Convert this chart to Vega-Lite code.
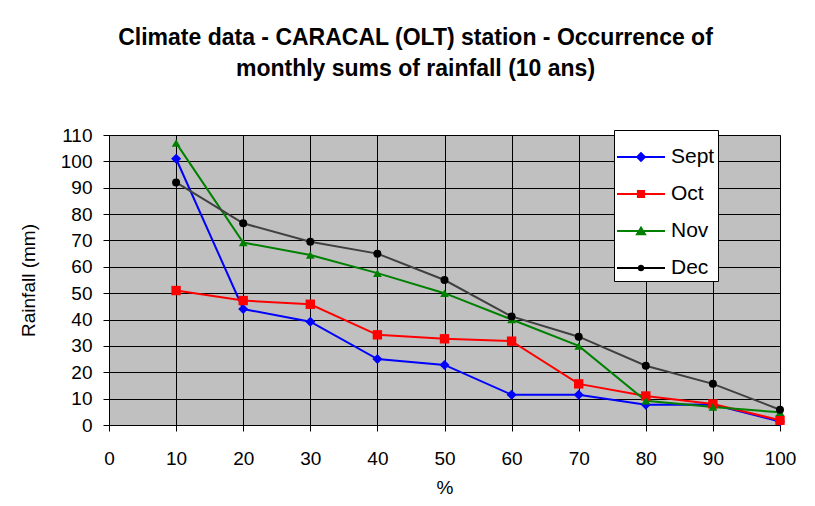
{
  "$schema": "https://vega.github.io/schema/vega-lite/v6.json",
  "width": 671,
  "height": 290,
  "autosize": "none",
  "padding": {"left": 109, "top": 135, "right": 35, "bottom": 81},
  "background": "white",
  "title": {
    "text": ["Climate data - CARACAL (OLT) station - Occurrence of", "monthly sums of rainfall (10 ans)"],
    "font": "Liberation Sans",
    "fontSize": 23,
    "fontWeight": "bold",
    "color": "black",
    "lineHeight": 31,
    "anchor": "middle",
    "dx": -29,
    "baseline": "alphabetic",
    "offset": 27
  },
  "config": {
    "view": {"fill": "#c0c0c0", "stroke": "#808080", "strokeWidth": 1},
    "axis": {
      "labelFont": "Liberation Sans",
      "labelFontSize": 19,
      "labelColor": "black",
      "titleFont": "Liberation Sans",
      "titleFontSize": 19,
      "titleFontWeight": "normal",
      "titleColor": "black",
      "domainColor": "black",
      "tickColor": "black",
      "tickSize": 6,
      "gridColor": "black",
      "gridOpacity": 1,
      "gridWidth": 1,
      "labelFlush": false,
      "labelOverlap": false
    }
  },
  "data": {
    "values": [
      {"pct": 10, "month": "Sept", "mm": 101},
      {"pct": 20, "month": "Sept", "mm": 44},
      {"pct": 30, "month": "Sept", "mm": 39.2},
      {"pct": 40, "month": "Sept", "mm": 25},
      {"pct": 50, "month": "Sept", "mm": 22.8},
      {"pct": 60, "month": "Sept", "mm": 11.5},
      {"pct": 70, "month": "Sept", "mm": 11.5},
      {"pct": 80, "month": "Sept", "mm": 7.7},
      {"pct": 90, "month": "Sept", "mm": 7.8},
      {"pct": 100, "month": "Sept", "mm": 1.3},
      {"pct": 10, "month": "Oct", "mm": 51},
      {"pct": 20, "month": "Oct", "mm": 47.2},
      {"pct": 30, "month": "Oct", "mm": 45.8},
      {"pct": 40, "month": "Oct", "mm": 34.2},
      {"pct": 50, "month": "Oct", "mm": 32.7},
      {"pct": 60, "month": "Oct", "mm": 31.8},
      {"pct": 70, "month": "Oct", "mm": 15.6},
      {"pct": 80, "month": "Oct", "mm": 11},
      {"pct": 90, "month": "Oct", "mm": 8},
      {"pct": 100, "month": "Oct", "mm": 1.8},
      {"pct": 10, "month": "Nov", "mm": 107},
      {"pct": 20, "month": "Nov", "mm": 69.2},
      {"pct": 30, "month": "Nov", "mm": 64.5},
      {"pct": 40, "month": "Nov", "mm": 57.6},
      {"pct": 50, "month": "Nov", "mm": 50},
      {"pct": 60, "month": "Nov", "mm": 40},
      {"pct": 70, "month": "Nov", "mm": 30},
      {"pct": 80, "month": "Nov", "mm": 9.2},
      {"pct": 90, "month": "Nov", "mm": 6.8},
      {"pct": 100, "month": "Nov", "mm": 4.8},
      {"pct": 10, "month": "Dec", "mm": 92},
      {"pct": 20, "month": "Dec", "mm": 76.5},
      {"pct": 30, "month": "Dec", "mm": 69.5},
      {"pct": 40, "month": "Dec", "mm": 65},
      {"pct": 50, "month": "Dec", "mm": 55},
      {"pct": 60, "month": "Dec", "mm": 41.2},
      {"pct": 70, "month": "Dec", "mm": 33.5},
      {"pct": 80, "month": "Dec", "mm": 22.5},
      {"pct": 90, "month": "Dec", "mm": 15.6},
      {"pct": 100, "month": "Dec", "mm": 5.8}
    ]
  },
  "encoding": {
    "x": {
      "field": "pct",
      "type": "quantitative",
      "scale": {"domain": [0, 100], "nice": false},
      "axis": {"values": [0, 10, 20, 30, 40, 50, 60, 70, 80, 90, 100], "title": "%", "labelPadding": 18, "titlePadding": 10}
    },
    "y": {
      "field": "mm",
      "type": "quantitative",
      "scale": {"domain": [0, 110], "nice": false},
      "axis": {"values": [0, 10, 20, 30, 40, 50, 60, 70, 80, 90, 100, 110], "title": "Rainfall (mm)", "labelPadding": 11, "titlePadding": 22}
    }
  },
  "layer": [
    {
      "mark": {"type": "line", "strokeWidth": 2},
      "encoding": {
        "stroke": {
          "field": "month",
          "type": "nominal",
          "scale": {"domain": ["Sept", "Oct", "Nov", "Dec"], "range": ["#0000ff", "#ff0000", "#008000", "#404040"]},
          "legend": null
        },
        "order": {"field": "pct"}
      }
    },
    {
      "mark": {"type": "point", "filled": true, "opacity": 1, "strokeWidth": 0},
      "encoding": {
        "fill": {
          "field": "month",
          "type": "nominal",
          "scale": {"domain": ["Sept", "Oct", "Nov", "Dec"], "range": ["#0000ff", "#ff0000", "#008000", "#000000"]},
          "legend": null
        },
        "shape": {
          "field": "month",
          "type": "nominal",
          "scale": {"domain": ["Sept", "Oct", "Nov", "Dec"], "range": ["diamond", "square", "triangle-up", "circle"]},
          "legend": null
        },
        "size": {
          "field": "month",
          "type": "nominal",
          "scale": {"domain": ["Sept", "Oct", "Nov", "Dec"], "range": [100, 64, 90, 49]},
          "legend": null
        }
      }
    },
    {
      "transform": [{"filter": "datum.mm < -1000"}],
      "mark": {"type": "point", "filled": true, "opacity": 1, "strokeWidth": 0},
      "encoding": {
        "fill": {
          "field": "month",
          "type": "nominal",
          "scale": {"domain": ["Sept", "Oct", "Nov", "Dec"], "range": ["#0000ff", "#ff0000", "#008000", "#000000"]},
          "legend": {
            "orient": "none", "legendX": 505, "legendY": -5, "title": null,
            "fillColor": "white", "strokeColor": "black", "padding": 3,
            "symbolSize": 2304, "symbolStrokeWidth": 0, "symbolOpacity": 1,
            "labelFont": "Liberation Sans", "labelFontSize": 21, "labelColor": "black",
            "labelOffset": 6, "rowPadding": 3
          }
        },
        "shape": {
          "field": "month",
          "type": "nominal",
          "scale": {
            "domain": ["Sept", "Oct", "Nov", "Dec"],
            "range": [
              "M-1,-0.045H1V0.045H-1Z M0,-0.22L0.22,0L0,0.22L-0.22,0Z",
              "M-1,-0.045H1V0.045H-1Z M-0.17,-0.17H0.17V0.17H-0.17Z",
              "M-1,-0.045H1V0.045H-1Z M0,-0.22L0.24,0.18H-0.24Z",
              "M-1,-0.045H1V0.045H-1Z M0.14,0A0.14,0.14,0,1,1,-0.14,0A0.14,0.14,0,1,1,0.14,0Z"
            ]
          },
          "legend": {
            "orient": "none", "legendX": 505, "legendY": -5, "title": null,
            "fillColor": "white", "strokeColor": "black", "padding": 3,
            "symbolSize": 2304, "symbolStrokeWidth": 0, "symbolOpacity": 1,
            "labelFont": "Liberation Sans", "labelFontSize": 21, "labelColor": "black",
            "labelOffset": 6, "rowPadding": 3
          }
        }
      }
    }
  ],
  "resolve": {"scale": {"fill": "independent", "shape": "independent"}}
}
